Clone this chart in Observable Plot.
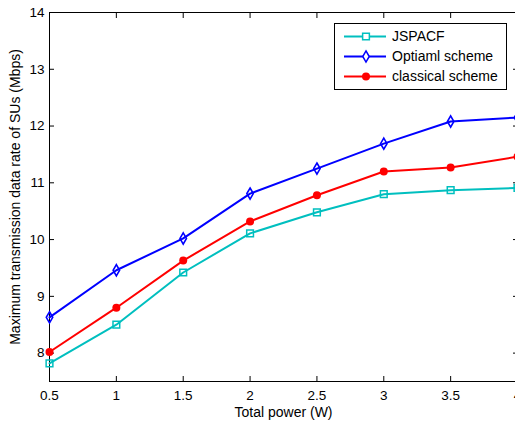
<!DOCTYPE html>
<html><head><meta charset="utf-8">
<script src="https://cdn.jsdelivr.net/npm/d3@7"></script>
<script src="https://cdn.jsdelivr.net/npm/@observablehq/plot@0.6"></script>
<style>
body{margin:0;background:#fff;}
#wrap{position:relative;width:515px;height:421px;overflow:hidden;font-family:"Liberation Sans",Arial,sans-serif;background:#fff;}
#legend{position:absolute;left:334px;top:23px;width:171px;height:65px;border:1px solid #000;background:#fff;}
#legend svg{position:absolute;left:0;top:0;}
</style></head><body><div id="wrap"></div>
<script>
const power = [0.5, 1, 1.5, 2, 2.5, 3, 3.5, 4];
const jspacf = [7.82, 8.50, 9.42, 10.11, 10.48, 10.80, 10.87, 10.91];
const optimal = [8.63, 9.46, 10.02, 10.81, 11.25, 11.69, 12.08, 12.15];
const classical = [8.02, 8.80, 9.63, 10.32, 10.78, 11.20, 11.27, 11.46];
const seriesNames = ["JSPACF", "Optiaml scheme", "classical scheme"];
const seriesColors = ["#00bfbf", "#0000ff", "#ff0000"];
const xTicks = [0.5, 1, 1.5, 2, 2.5, 3, 3.5, 4];
const yTicks = [8, 9, 10, 11, 12, 13, 14];
const xLabel = "Total power (W)";
const yLabel = "Maximum transmission data rate of SUs (Mbps)";

const rows = (vals) => power.map((p, i) => ({p, v: vals[i]}));
const dJ = rows(jspacf), dO = rows(optimal), dC = rows(classical);

const chart = Plot.plot({
  width: 515, height: 421,
  marginLeft: 49, marginRight: -2, marginTop: 12, marginBottom: 40,
  x: {domain: [0.5, 4]},
  y: {domain: [7.5, 14]},
  style: {fontFamily: "'Liberation Sans', Arial, sans-serif", fontSize: "13.5px", color: "#000", background: "transparent", overflow: "hidden"},
  marks: [
    Plot.frame({stroke: "#000", strokeWidth: 1}),
    Plot.axisX(xTicks, {anchor: "bottom", tickSize: -5, tickPadding: 14, label: null, tickFormat: d => String(d), fontSize: 13.5}),
    Plot.axisX(xTicks, {anchor: "top", tickSize: -5, label: null, tickFormat: () => ""}),
    Plot.axisY(yTicks, {anchor: "left", tickSize: -5, tickPadding: 10, label: null, tickFormat: d => String(d), fontSize: 13.5}),
    Plot.axisY(yTicks, {anchor: "right", tickSize: -5, label: null, tickFormat: () => ""}),
    Plot.line(dJ, {x: "p", y: "v", stroke: seriesColors[0], strokeWidth: 2}),
    Plot.dot(dJ, {x: "p", y: "v", symbol: "square", stroke: seriesColors[0], fill: "none", r: 3.8, strokeWidth: 1.5}),
    Plot.line(dO, {x: "p", y: "v", stroke: seriesColors[1], strokeWidth: 2}),
    Plot.dot(dO, {x: "p", y: "v", symbol: "diamond", stroke: seriesColors[1], fill: "none", r: 3.4, strokeWidth: 1.6}),
    Plot.line(dC, {x: "p", y: "v", stroke: seriesColors[2], strokeWidth: 2}),
    Plot.dot(dC, {x: "p", y: "v", symbol: "circle", fill: seriesColors[2], r: 4}),
    Plot.text([xLabel], {text: d => d, frameAnchor: "bottom", dy: 31, lineAnchor: "middle", textAnchor: "middle", fontSize: 14}),
    Plot.text([yLabel], {text: d => d, frameAnchor: "left", dx: -34, rotate: -90, lineAnchor: "middle", textAnchor: "middle", fontSize: 14})
  ]
});
const wrap = document.getElementById("wrap");
wrap.appendChild(chart);

// legend
const leg = document.createElement("div");
leg.id = "legend";
wrap.appendChild(leg);
const svg = d3.select(leg).append("svg").attr("width", 171).attr("height", 65);
const syms = [d3.symbolSquare, d3.symbolDiamond, d3.symbolCircle];
const areas = [Math.PI * 3.8 * 3.8, Math.PI * 3.4 * 3.4, Math.PI * 16];
seriesNames.forEach((name, i) => {
  const y = 12.5 + i * 20;
  const g = svg.append("g");
  g.append("line").attr("x1", 9).attr("x2", 51).attr("y1", y).attr("y2", y).attr("stroke", seriesColors[i]).attr("stroke-width", 2);
  g.append("path").attr("d", d3.symbol(syms[i], areas[i])()).attr("transform", `translate(31,${y})`)
    .attr("fill", i === 2 ? seriesColors[i] : "#fff").attr("stroke", i === 2 ? "none" : seriesColors[i]).attr("stroke-width", 1.5);
  g.append("text").attr("x", 57).attr("y", y).attr("dy", "0.35em").attr("font-size", 14).attr("font-family", "'Liberation Sans', Arial, sans-serif").text(name);
});
</script>
</body></html>
